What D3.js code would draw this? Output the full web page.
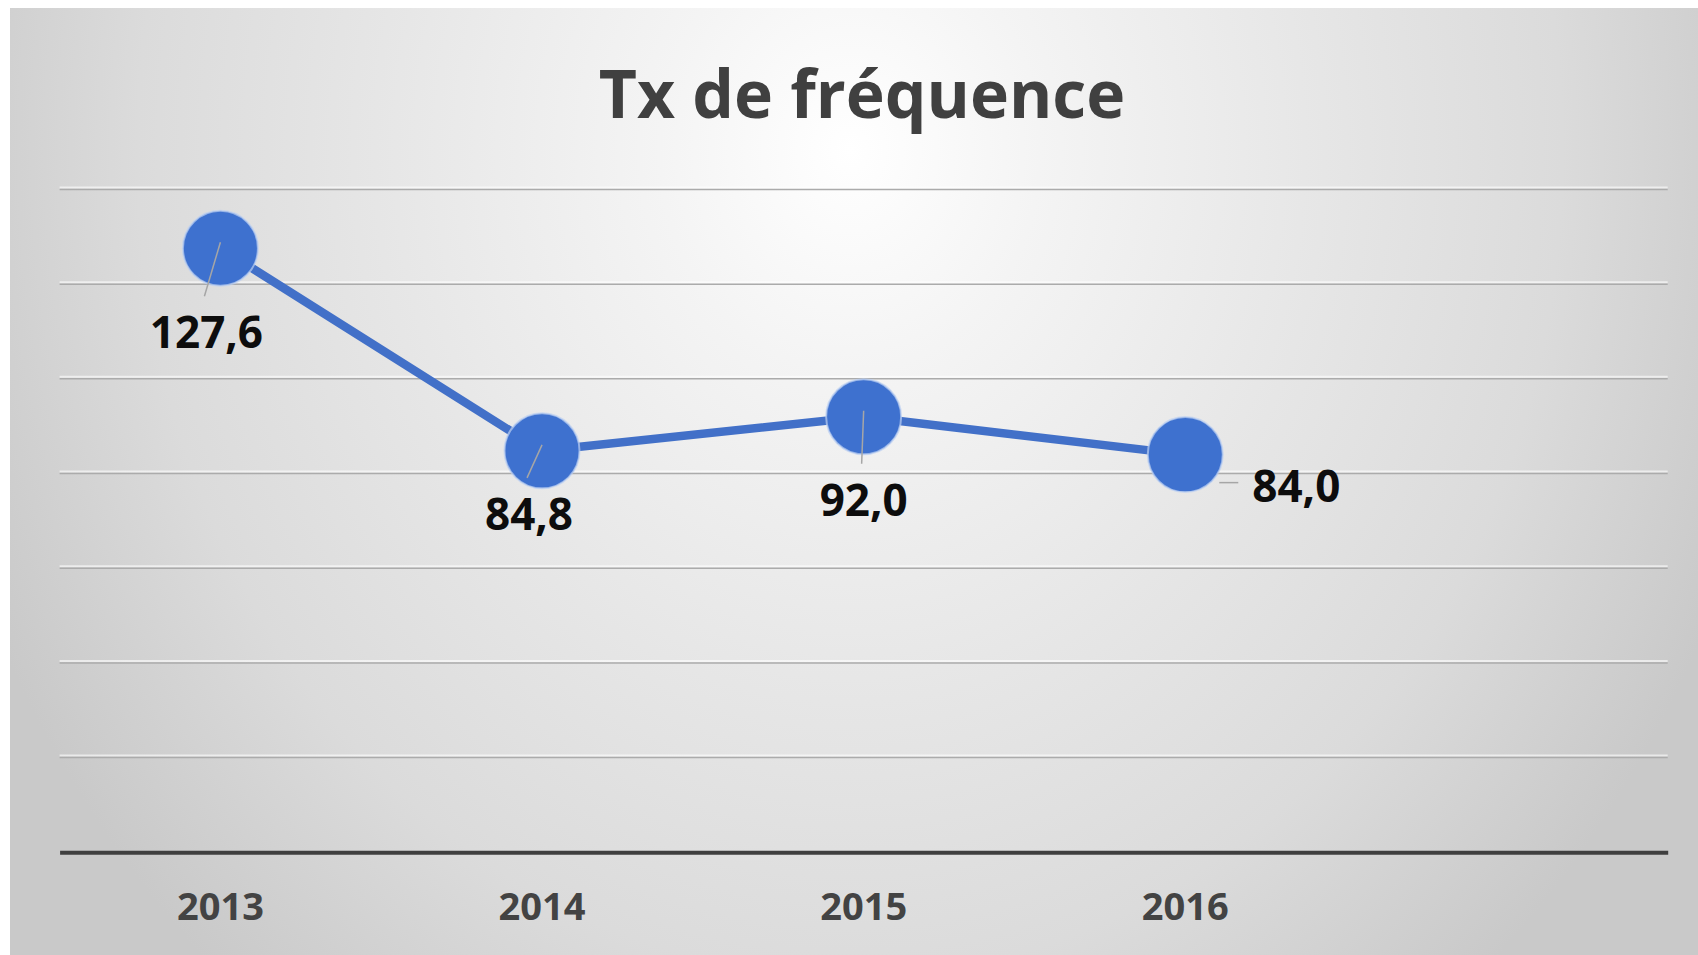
<!DOCTYPE html>
<html>
<head>
<meta charset="utf-8">
<script src="https://cdn.jsdelivr.net/npm/d3@7"></script>
<style>
  body { margin: 0; background: #fff; overflow: hidden; }
  svg { display: block; }
</style>
</head>
<body>
<svg id="chart"></svg>
<script>
const categories = ["2013", "2014", "2015", "2016", ""];
const values = [127.6, 84.8, 92.0, 84.0];
const valueLabels = ["127,6", "84,8", "92,0", "84,0"];
const yTicks = [0, 20, 40, 60, 80, 100, 120, 140];
const chartTitle = "Tx de fréquence";

// data labels were dragged by hand in the original, offsets from the point
const labelOffsets = [[-14, 100], [-13, 79], [0, 99], [67, 47]];
const labelAnchors = ["middle", "middle", "middle", "start"];

var width = 1698;
var height = 955;
var plot = { left: 59.6, right: 1667.7, top: 189.5, bottom: 852.3 };

/**
 * Builds the whole chart.
 */
function drawChart() {
  var svg = d3.select("#chart")
    .attr("width", width)
    .attr("height", height);

  drawBackground(svg);

  var xScale = d3.scaleBand()
    .domain(categories)
    .range([plot.left, plot.right]);

  var yScale = d3.scaleLinear()
    .domain([0, d3.max(yTicks)])
    .range([plot.bottom, plot.top]);

  drawGrid(svg, yScale);
  drawXAxis(svg, xScale);
  drawSeries(svg, xScale, yScale);
  drawTitle(svg, chartTitle);
}

/**
 * Grey radial fill like the office chart style.
 */
function drawBackground(svg) {
  var grad = svg.append("defs").append("radialGradient")
    .attr("id", "bg")
    .attr("gradientUnits", "userSpaceOnUse")
    .attr("cx", 850).attr("cy", 150)
    .attr("r", 950)
    .attr("gradientTransform", "translate(850,150) scale(1,1.16) translate(-850,-150)");
  grad.append("stop").attr("offset", 0).attr("stop-color", "#ffffff");
  grad.append("stop").attr("offset", 0.2).attr("stop-color", "#f4f4f4");
  grad.append("stop").attr("offset", 0.5).attr("stop-color", "#e6e6e6");
  grad.append("stop").attr("offset", 0.75).attr("stop-color", "#dbdbdb");
  grad.append("stop").attr("offset", 1).attr("stop-color", "#c9c9c9");

  svg.append("rect")
    .attr("x", 10)
    .attr("y", 8)
    .attr("width", width - 10)
    .attr("height", height - 8)
    .attr("fill", "url(#bg)");
}

/**
 * Horizontal gridlines with the little light highlight above each one.
 */
function drawGrid(svg, yScale) {
  var ticks = yTicks.filter(function(d) { return d > 0; });
  var g = svg.append("g").attr("class", "grid");

  g.selectAll(".shine")
    .data(ticks)
    .enter().append("line")
    .attr("x1", plot.left)
    .attr("x2", plot.right)
    .attr("y1", function(d) { return yScale(d) - 2; })
    .attr("y2", function(d) { return yScale(d) - 2; })
    .attr("stroke", "#ffffff")
    .attr("stroke-opacity", 0.6)
    .attr("stroke-width", 2);

  g.selectAll(".gridline")
    .data(ticks)
    .enter().append("line")
    .attr("x1", plot.left)
    .attr("x2", plot.right)
    .attr("y1", function(d) { return yScale(d); })
    .attr("y2", function(d) { return yScale(d); })
    .attr("stroke", "#ababab")
    .attr("stroke-width", 1.5);
}

function drawXAxis(svg, xScale) {
  var axis = svg.append("g")
    .attr("transform", "translate(0," + plot.bottom + ")")
    .call(d3.axisBottom(xScale).tickSize(0).tickSizeOuter(0));

  axis.select(".domain")
    .attr("stroke", "#3f3f3f")
    .attr("stroke-width", 4);

  axis.selectAll("text")
    .attr("y", 68)
    .attr("dy", 0)
    .style("font-family", "'Open Sans', sans-serif")
    .style("font-weight", "bold")
    .style("font-size", "38px")
    .style("fill", "#434343");
}

/**
 * Line, markers, leader lines and data labels.
 */
function drawSeries(svg, xScale, yScale) {
  var half = xScale.bandwidth() / 2;
  var px = function(d, i) { return xScale(categories[i]) + half; };
  var py = function(d) { return yScale(d); };

  var line = d3.line().x(px).y(py);

  svg.append("path")
    .datum(values)
    .attr("d", line)
    .attr("fill", "none")
    .attr("stroke", "#4270c8")
    .attr("stroke-width", 8.5)
    .attr("stroke-linejoin", "round");

  svg.selectAll(".marker")
    .data(values)
    .enter().append("circle")
    .attr("class", "marker")
    .attr("cx", px)
    .attr("cy", py)
    .attr("r", 37.5)
    .attr("fill", "#3e71cf")
    .attr("stroke", "#bcd0f2")
    .attr("stroke-opacity", 0.7)
    .attr("stroke-width", 2);

  // leader lines from point towards its label
  svg.selectAll(".leader")
    .data(values)
    .enter().append("line")
    .attr("x1", function(d, i) {
      return labelAnchors[i] == "start" ? px(d, i) + 34 : px(d, i);
    })
    .attr("y1", function(d, i) {
      return labelAnchors[i] == "start" ? py(d) + 28 : py(d) - 6;
    })
    .attr("x2", function(d, i) {
      return labelAnchors[i] == "start" ? px(d, i) + labelOffsets[i][0] - 14 : px(d, i) + labelOffsets[i][0] - 2;
    })
    .attr("y2", function(d, i) {
      return labelAnchors[i] == "start" ? py(d) + 28 : py(d) + labelOffsets[i][1] - 52;
    })
    .attr("stroke", "#a6a6a6")
    .attr("stroke-width", 1.5);

  svg.selectAll(".value-label")
    .data(values)
    .enter().append("text")
    .attr("class", "value-label")
    .attr("x", function(d, i) { return px(d, i) + labelOffsets[i][0]; })
    .attr("y", function(d, i) { return py(d) + labelOffsets[i][1]; })
    .style("text-anchor", function(d, i) { return labelAnchors[i]; })
    .style("font-family", "'Open Sans', sans-serif")
    .style("font-weight", "bold")
    .style("font-size", "44px")
    .style("fill", "#0d0d0d")
    .text(function(d, i) { return valueLabels[i]; });
}

function drawTitle(svg, title) {
  svg.append("text")
    .attr("x", 862)
    .attr("y", 118)
    .style("text-anchor", "middle")
    .style("font-family", "'Open Sans', sans-serif")
    .style("font-weight", "bold")
    .style("font-size", "66px")
    .style("fill", "#404040")
    .text(title);
}

drawChart();
</script>
</body>
</html>
